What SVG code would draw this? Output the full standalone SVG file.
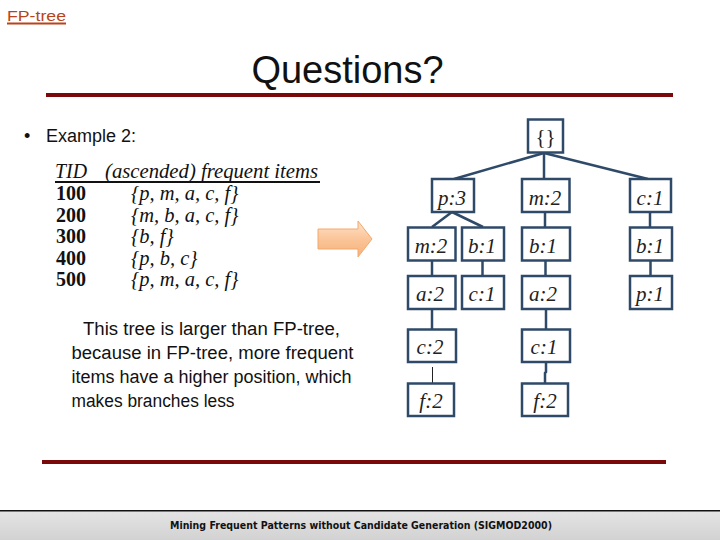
<svg xmlns="http://www.w3.org/2000/svg" width="720" height="540" viewBox="0 0 720 540">
<defs>
<linearGradient id="arrowGrad" x1="0" y1="0" x2="0" y2="1">
<stop offset="0" stop-color="#fde3cc"/>
<stop offset="0.5" stop-color="#fbc598"/>
<stop offset="1" stop-color="#f7b079"/>
</linearGradient>
<linearGradient id="footGrad" x1="0" y1="0" x2="0" y2="1">
<stop offset="0" stop-color="#e4e4e4"/>
<stop offset="1" stop-color="#d2d2d2"/>
</linearGradient>
</defs>
<style>
.box{fill:#ffffff;stroke:#2f4a68;stroke-width:2.5}
.lbl{font-family:"Liberation Serif","Times New Roman",serif;font-style:italic;font-size:21px;fill:#222;text-anchor:middle}
.edge{stroke:#2f4a68;stroke-width:2.5;fill:none}
.thin{stroke:#222;stroke-width:1;fill:none}
.tbl{font-family:"Liberation Serif","Times New Roman",serif;font-style:italic;font-size:20.5px;fill:#111}
.num{font-family:"Liberation Serif","Times New Roman",serif;font-weight:bold;font-size:20px;fill:#111}
.sans{font-family:"Liberation Sans",Arial,sans-serif;fill:#111}
.rule{fill:#7a0a0a}
</style>

<rect width="720" height="540" fill="#ffffff"/>

<!-- header -->
<text x="7" y="20.5" class="sans" font-size="15.5" fill="#b8441c" style="fill:#b8441c" textLength="59" lengthAdjust="spacingAndGlyphs">FP-tree</text>
<rect x="7" y="22.5" width="59" height="2" fill="#b8441c"/>
<text x="347.5" y="83" class="sans" font-size="38" text-anchor="middle">Questions?</text>
<rect class="rule" x="46" y="93" width="627" height="4"/>

<!-- left text -->
<text x="24" y="142" class="sans" font-size="18">•</text>
<text x="46" y="142" class="sans" font-size="18">Example 2:</text>

<text x="55" y="178" class="tbl" textLength="32" lengthAdjust="spacingAndGlyphs">TID</text>
<text x="105" y="178" class="tbl" textLength="213" lengthAdjust="spacingAndGlyphs">(ascended) frequent items</text>
<rect x="55" y="181" width="265" height="2" fill="#111"/>

<text x="56" y="200" class="num">100</text>
<text x="56" y="221.5" class="num">200</text>
<text x="56" y="243" class="num">300</text>
<text x="56" y="264.5" class="num">400</text>
<text x="56" y="286" class="num">500</text>

<text x="131" y="200" class="tbl">{p, m, a, c, f}</text>
<text x="131" y="221.5" class="tbl">{m, b, a, c, f}</text>
<text x="131" y="243" class="tbl">{b, f}</text>
<text x="131" y="264.5" class="tbl">{p, b, c}</text>
<text x="131" y="286" class="tbl">{p, m, a, c, f}</text>

<!-- arrow -->
<path d="M318,229 L358,229 L358,221 L372,239 L358,257 L358,249 L318,249 Z" fill="url(#arrowGrad)" stroke="#f2a86e" stroke-width="1"/>

<text x="83" y="335" class="sans" font-size="18" textLength="257" lengthAdjust="spacingAndGlyphs">This tree is larger than FP-tree,</text>
<text x="71.5" y="359" class="sans" font-size="18" textLength="282" lengthAdjust="spacingAndGlyphs">because in FP-tree, more frequent</text>
<text x="71.5" y="383" class="sans" font-size="18" textLength="280" lengthAdjust="spacingAndGlyphs">items have a higher position, which</text>
<text x="71.5" y="407" class="sans" font-size="18" textLength="163" lengthAdjust="spacingAndGlyphs">makes branches less</text>

<!-- connectors -->
<g id="connectors">
<line class="edge" x1="544" y1="153" x2="454" y2="179"/>
<line class="edge" x1="544" y1="153" x2="544" y2="179"/>
<line class="edge" x1="544" y1="153" x2="648" y2="179"/>
<line class="edge" x1="452" y1="212" x2="432" y2="227"/>
<line class="edge" x1="452" y1="212" x2="483" y2="227"/>
<line class="edge" x1="545" y1="212" x2="545" y2="227"/>
<line class="edge" x1="650" y1="212" x2="650" y2="227"/>
<line class="edge" x1="432" y1="261" x2="432" y2="276"/>
<line class="edge" x1="482.5" y1="261" x2="482.5" y2="276"/>
<line class="edge" x1="545.5" y1="261" x2="545.5" y2="276"/>
<line class="edge" x1="650.5" y1="261" x2="650.5" y2="276"/>
<line class="edge" x1="432" y1="309" x2="432" y2="329"/>
<line class="edge" x1="546" y1="309" x2="546" y2="329"/>
<line class="thin" x1="432.5" y1="367" x2="432.5" y2="383"/>
<polyline class="edge" points="546,362 546,372 545,373 545,383"/>
</g>

<!-- nodes -->
<g id="n-root"><rect class="box" x="528" y="119.5" width="35" height="33"/><text class="lbl" x="545.5" y="144" style="font-style:normal">{}</text></g>
<g id="n-p3"><rect class="box" x="432" y="179" width="42" height="33"/><text class="lbl" x="452" y="205">p:3</text></g>
<g id="n-m2a"><rect class="box" x="522" y="179" width="47.5" height="33"/><text class="lbl" x="545" y="205">m:2</text></g>
<g id="n-c1a"><rect class="box" x="630" y="179" width="41" height="33"/><text class="lbl" x="650" y="205">c:1</text></g>

<g id="n-m2b"><rect class="box" x="408" y="227.5" width="47.5" height="33"/><text class="lbl" x="431" y="253">m:2</text></g>
<g id="n-b1a"><rect class="box" x="462" y="227.5" width="42" height="33"/><text class="lbl" x="482" y="253">b:1</text></g>
<g id="n-b1b"><rect class="box" x="522" y="227.5" width="48" height="33"/><text class="lbl" x="543" y="253">b:1</text></g>
<g id="n-b1c"><rect class="box" x="630" y="227.5" width="42" height="33"/><text class="lbl" x="650" y="253">b:1</text></g>

<g id="n-a2a"><rect class="box" x="408" y="276" width="47.5" height="33"/><text class="lbl" x="430" y="301">a:2</text></g>
<g id="n-c1b"><rect class="box" x="462" y="276" width="42" height="33"/><text class="lbl" x="482" y="301">c:1</text></g>
<g id="n-a2b"><rect class="box" x="522" y="276" width="48" height="33"/><text class="lbl" x="543" y="301">a:2</text></g>
<g id="n-p1"><rect class="box" x="630" y="276" width="42" height="33"/><text class="lbl" x="650" y="301">p:1</text></g>

<g id="n-c2"><rect class="box" x="408" y="329.5" width="48" height="32.5"/><text class="lbl" x="430" y="354">c:2</text></g>
<g id="n-c1c"><rect class="box" x="522" y="329.5" width="48" height="32.5"/><text class="lbl" x="544" y="354">c:1</text></g>

<g id="n-f2a"><rect class="box" x="408" y="383.5" width="46" height="32.5"/><text class="lbl" x="431" y="408">f:2</text></g>
<g id="n-f2b"><rect class="box" x="522" y="383.5" width="46" height="32.5"/><text class="lbl" x="545" y="408">f:2</text></g>

<rect class="rule" x="42" y="460" width="624" height="4"/>

<!-- footer -->
<rect x="0" y="511" width="720" height="29" fill="url(#footGrad)"/>
<rect x="0" y="510" width="720" height="1.5" fill="#111"/>
<text x="361" y="528.5" font-family="'DejaVu Sans',sans-serif" font-weight="bold" font-size="10.5" fill="#111" text-anchor="middle" textLength="382" lengthAdjust="spacingAndGlyphs">Mining Frequent Patterns without Candidate Generation (SIGMOD2000)</text>
</svg>
